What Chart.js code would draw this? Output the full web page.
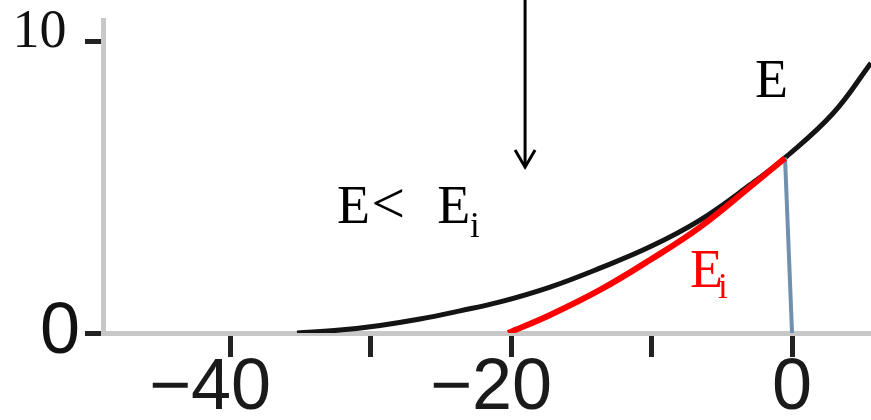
<!DOCTYPE html>
<html>
<head>
<meta charset="utf-8">
<script src="https://cdn.jsdelivr.net/npm/chart.js@4.4.1/dist/chart.umd.min.js"></script>
<style>
    body { margin: 0; background: white; }
    canvas { display: block; }
</style>
</head>
<body>
<canvas id="grafica" width="871" height="420"></canvas>
<script>
// curva E (negra)
const eX = [-35.23, -32.17, -29.32, -26.48, -23.63, -20.78, -17.22, -13.67, -10.11, -6.55, -2.99, -0.36, 2.94, 5.62]
const eY = [0, 0.1, 0.26, 0.48, 0.76, 1.07, 1.58, 2.23, 2.96, 3.88, 5.09, 6.08, 7.56, 9.28]

// curva Ei (roja)
const eiX = [-20.21, -17.22, -13.67, -10.11, -6.55, -2.99, -0.5]
const eiY = [0, 0.62, 1.48, 2.51, 3.64, 5.02, 6.01]

// linea vertical azul
const caidaX = [-0.5, 0]
const caidaY = [6.03, 0]

// flecha
const flechaX = [-19, -19]
const flechaY = [11.44, 5.7]
const puntaX = [-19.71, -19, -18.29]
const puntaY = [6.29, 5.7, 6.29]

const xTicks = [-40, -30, -20, -10, 0]
const xEtiquetas = ["\u221240  ", "", "\u221220  ", "", "0"]
const yTicks = [0, 10]
const yEtiquetas = ["0", ["10 ", ""]]

const textos = [
    { texto: "E", x: -2.63, y: 8.11, size: 54, color: "black" },
    { texto: "E", x: -32.38, y: 3.78, size: 54, color: "black" },
    { texto: "<", x: -29.95, y: 3.78, size: 60, color: "black" },
    { texto: "E", x: -25.25, y: 3.78, size: 54, color: "black" },
    { texto: "i", x: -22.92, y: 3.3, size: 35, color: "black" },
    { texto: "E", x: -7.26, y: 1.58, size: 54, color: "red" },
    { texto: "i", x: -5.27, y: 1.2, size: 35, color: "red" }
]

function puntos(xs, ys) {
    return xs.map((x, i) => ({ x: x, y: ys[i] }))
}

const pluginTextos = {
    id: "textos",
    afterDatasetsDraw(chart) {
        const ctx = chart.ctx
        const escalaX = chart.scales.x
        const escalaY = chart.scales.y
        ctx.save()
        ctx.textAlign = "left"
        ctx.textBaseline = "alphabetic"
        textos.forEach((t) => {
            ctx.font = t.size + "px 'Liberation Serif'"
            ctx.fillStyle = t.color
            ctx.fillText(t.texto, escalaX.getPixelForValue(t.x), escalaY.getPixelForValue(t.y))
        })
        ctx.restore()
    }
}

const config = {
    type: "scatter",
    data: {
        datasets: [
            {
                label: "Ei",
                data: puntos(eiX, eiY),
                showLine: true,
                borderColor: "#ff0000",
                borderWidth: 6,
                pointRadius: 0,
                tension: 0.4,
                order: 0
            },
            {
                label: "caida",
                data: puntos(caidaX, caidaY),
                showLine: true,
                borderColor: "#7090b0",
                borderWidth: 4,
                pointRadius: 0,
                order: 1
            },
            {
                label: "E",
                data: puntos(eX, eY),
                showLine: true,
                borderColor: "#141414",
                borderWidth: 5,
                pointRadius: 0,
                tension: 0.4,
                order: 2
            },
            {
                label: "flecha",
                data: puntos(flechaX, flechaY),
                showLine: true,
                borderColor: "black",
                borderWidth: 3,
                pointRadius: 0,
                clip: false,
                order: 3
            },
            {
                label: "punta",
                data: puntos(puntaX, puntaY),
                showLine: true,
                borderColor: "black",
                borderWidth: 3,
                pointRadius: 0,
                clip: false,
                order: 3
            }
        ]
    },
    options: {
        responsive: false,
        animation: false,
        layout: { padding: { top: 20, right: 0, left: 0, bottom: 0 } },
        plugins: {
            legend: { display: false },
            tooltip: { enabled: false }
        },
        scales: {
            x: {
                type: "linear",
                min: -49.04,
                max: 5.62,
                afterBuildTicks: (escala) => {
                    escala.ticks = xTicks.map((v) => ({ value: v }))
                },
                afterFit: (escala) => {
                    escala.height = 87
                    escala.paddingLeft = 0
                    escala.paddingRight = 0
                },
                border: { color: "#c8c8c8", width: 5 },
                grid: {
                    drawOnChartArea: false,
                    drawTicks: true,
                    tickLength: 24,
                    tickWidth: 5,
                    tickColor: "#222222"
                },
                ticks: {
                    padding: 2,
                    color: "#1a1a1a",
                    maxRotation: 0,
                    autoSkip: false,
                    font: { family: "'Liberation Sans'", size: 72, lineHeight: 0.83 },
                    callback: (valor) => xEtiquetas[xTicks.indexOf(valor)]
                }
            },
            y: {
                min: 0,
                max: 10.756,
                afterBuildTicks: (escala) => {
                    escala.ticks = yTicks.map((v) => ({ value: v }))
                },
                afterFit: (escala) => {
                    escala.width = 103
                    escala.paddingTop = 0
                    escala.paddingBottom = 0
                },
                border: { color: "#c8c8c8", width: 5 },
                grid: {
                    drawOnChartArea: false,
                    drawTicks: true,
                    tickLength: 18,
                    tickWidth: 5,
                    tickColor: "#222222"
                },
                ticks: {
                    padding: 5,
                    color: "#111111",
                    autoSkip: false,
                    font: (c) => c.tick && c.tick.value === 10
                        ? { family: "'Liberation Serif'", size: 54, lineHeight: 0.33 }
                        : { family: "'Liberation Sans'", size: 72 },
                    callback: (valor) => yEtiquetas[yTicks.indexOf(valor)]
                }
            }
        }
    },
    plugins: [pluginTextos]
}

new Chart(document.getElementById("grafica"), config)
</script>
</body>
</html>
